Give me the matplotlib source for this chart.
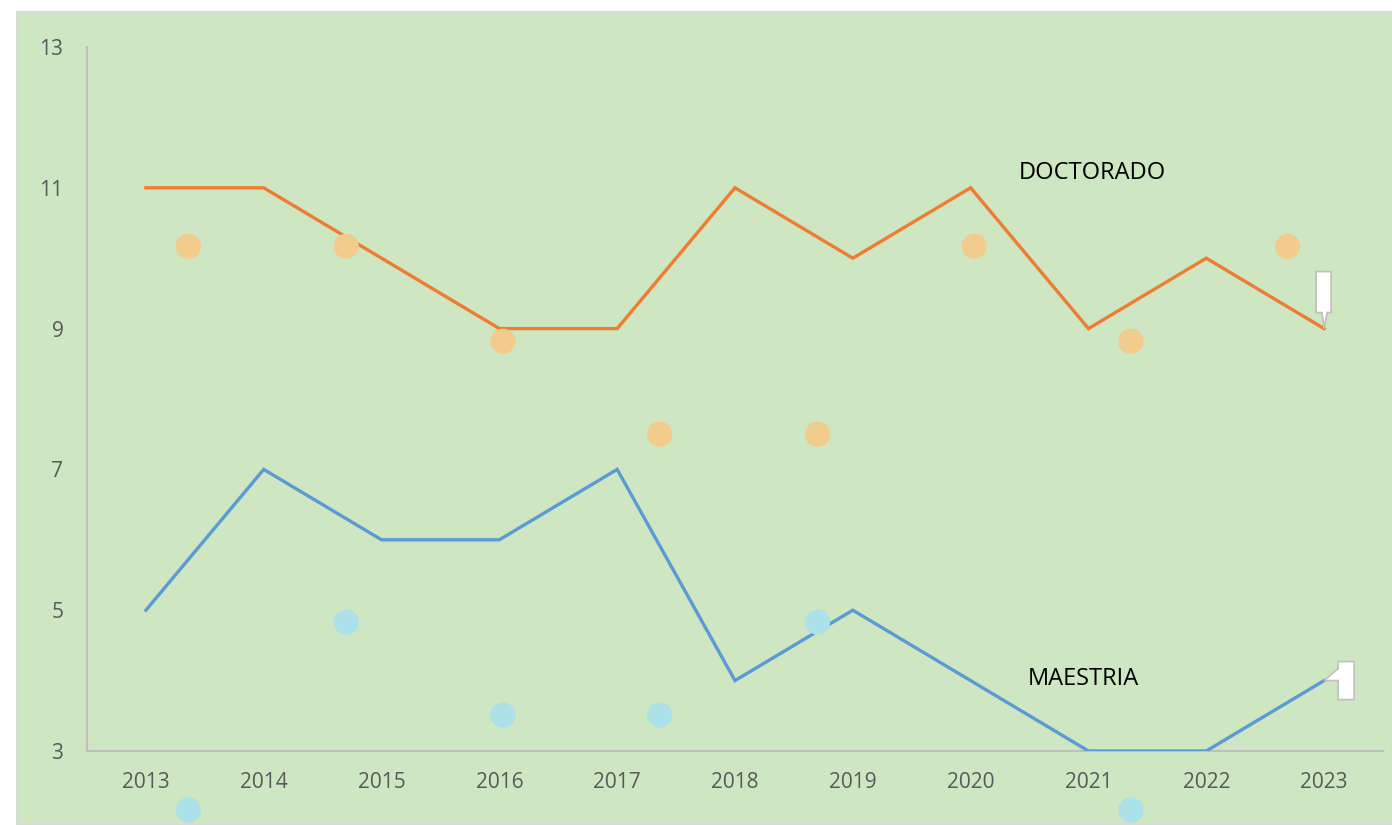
import matplotlib
matplotlib.use("Agg")
import matplotlib.pyplot as plt
import matplotlib.patches as patches
import matplotlib.transforms as transforms

# --- data ---
years = ["2013", "2014", "2015", "2016", "2017", "2018", "2019", "2020", "2021", "2022", "2023"]
doctorado = [11, 11, 10, 9, 9, 11, 10, 11, 9, 10, 9]
maestria = [5, 7, 6, 6, 7, 4, 5, 4, 3, 3, 4]

# decorative dots (category-index positions, values)
orange_dot_x = [0.36, 1.70, 3.03, 4.36, 5.70, 7.03, 8.36, 9.69]
orange_dot_y = [10.17, 10.17, 8.82, 7.50, 7.50, 10.17, 8.82, 10.17]
blue_dot_x = [0.36, 1.70, 3.03, 4.36, 5.70, 8.36]
blue_dot_y = [2.16, 4.83, 3.51, 3.51, 4.83, 2.16]

y_ticks = [3, 5, 7, 9, 11, 13]

ORANGE = "#ED7D31"
BLUE = "#5B9BD5"
BG = "#CEE6C1"
TICK = "#595959"
AXIS = "#BFBFBF"

plt.rcParams['font.family'] = ['Open Sans', 'DejaVu Sans']

W, H = 1392, 825
fig = plt.figure(figsize=(W / 100, H / 100), dpi=100)

# green chart area
fig.patches.append(patches.Rectangle((17 / W, 0), 1 - 17 / W, 1 - 12 / H,
                                     transform=fig.transFigure, facecolor=BG,
                                     edgecolor="#D9D9D9", linewidth=1.5, zorder=-10))

ax = fig.add_axes([87 / W, (H - 751) / H, (1383 - 87) / W, (751 - 47) / H])
ax.set_facecolor("none")

x = list(range(len(years)))
ax.plot(x, doctorado, color=ORANGE, linewidth=2.4, solid_joinstyle="miter", zorder=3)
ax.plot(x, maestria, color=BLUE, linewidth=2.4, solid_joinstyle="miter", zorder=3)

ax.scatter(orange_dot_x, orange_dot_y, s=330, color="#F2CC8C", edgecolors="none",
           zorder=4, clip_on=False)
ax.scatter(blue_dot_x, blue_dot_y, s=330, color="#ADE1E9", edgecolors="none",
           zorder=4, clip_on=False)

ax.set_xlim(-0.5, len(years) - 0.5)
ax.set_ylim(3, 13)
ax.set_xticks(x)
ax.set_xticklabels(years)
ax.set_yticks(y_ticks)
ax.tick_params(axis="both", length=0, labelsize=15, labelcolor=TICK)
ax.tick_params(axis="y", pad=17)
ax.tick_params(axis="x", pad=15)

for s in ["top", "right"]:
    ax.spines[s].set_visible(False)
ax.spines["left"].set_color(AXIS)
ax.spines["bottom"].set_color(AXIS)
ax.spines["left"].set_linewidth(1.5)
ax.spines["bottom"].set_linewidth(1.5)

# series labels
ax.text(8.03, 11.21, "DOCTORADO", fontsize=17, color="black", ha="center", va="center")
ax.text(7.96, 4.02, "MAESTRIA", fontsize=17, color="black", ha="center", va="center")

# empty callout labels on last points (shapes in pixels relative to the point)
def callout(xi, yi, verts_px):
    tr = fig.dpi_scale_trans + transforms.ScaledTranslation(xi, yi, ax.transData)
    verts = [(vx / 100, vy / 100) for vx, vy in verts_px]
    ax.add_patch(patches.Polygon(verts, closed=True, transform=tr, facecolor="white",
                                 edgecolor="#BFBFBF", linewidth=1.2, zorder=6,
                                 clip_on=False))

callout(x[-1], doctorado[-1],
        [(-8, 16), (-2, 16), (0, 0), (3, 16), (7, 16), (7, 57), (-8, 57)])
callout(x[-1], maestria[-1],
        [(14, -19), (14, 0), (0, 0), (14, 12), (14, 19), (30, 19), (30, -19)])

fig.savefig("out.png", dpi=100)
